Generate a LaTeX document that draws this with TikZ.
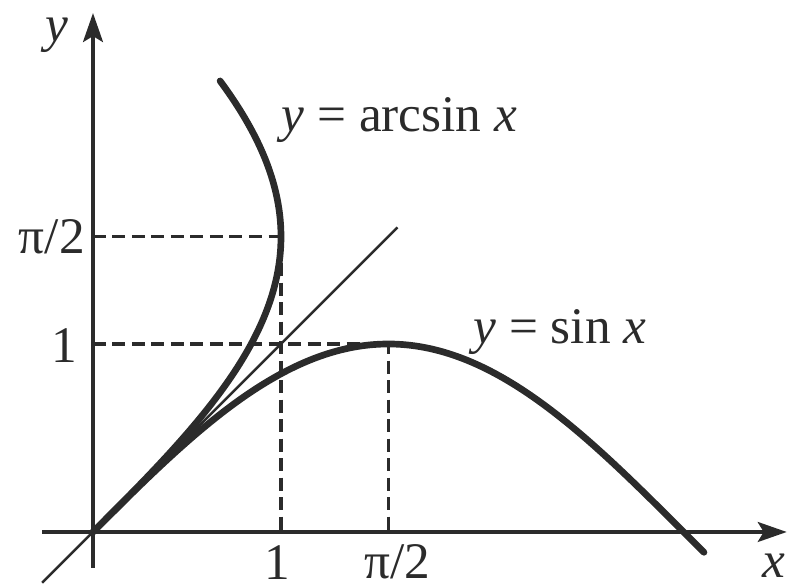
\documentclass[tikz,border=0pt]{standalone}
\usepackage{fontspec}
\setmainfont{Liberation Serif}
\usepackage{xcolor}
\usepackage{tikz}
\usetikzlibrary{arrows.meta}

\definecolor{ink}{HTML}{2B2B2B}

\begin{document}
\begin{tikzpicture}[
        x=1.88cm, y=1.88cm,
        axis/.style={-{Stealth[length=2.9mm, width=2mm, inset=0.6mm]}, line width=0.9pt, ink},
        curve/.style={line width=1.9pt, ink, line cap=round},
        diagonal/.style={line width=0.7pt, ink},
        guide/.style={line width=1pt, ink, dash pattern=on 1.3mm off 0.65mm},
        lbl/.style={font=\fontsize{14.6pt}{17pt}\selectfont, text=ink, inner sep=0pt}
    ]
        \useasboundingbox (-0.93cm,-0.55cm) rectangle (6.95cm,5.32cm);

        % axes
        \coordinate (O) at (0,0);
        \coordinate (xstart) at (-0.27,0);
        \coordinate (xend) at (3.69,0);
        \coordinate (ystart) at (0,-0.19);
        \coordinate (yend) at (0,2.76);
        \draw[axis] (xstart) -- (xend);
        \draw[axis] (ystart) -- (yend);
        \node[lbl] (xlabel) at (3.62,-0.18) {\textit{x}};
        \node[lbl] (ylabel) at (-0.19,2.64) {\textit{y}};

        % guide lines
        \coordinate (one) at (1,0);
        \coordinate (halfpi) at ({pi/2},0);
        \coordinate (yone) at (0,1);
        \coordinate (yhalfpi) at (0,{pi/2});
        \coordinate (top) at (1,{pi/2});
        \coordinate (peak) at ({pi/2},1);
        \draw[guide] (yhalfpi) -- (top) -- (one);
        \draw[guide] (yone) -- (peak) -- (halfpi);

        % tick labels
        \node[lbl] (tick1x) at (0.98,-0.16) {1};
        \node[lbl] (tickpix) at (1.62,-0.16) {π/2};
        \node[lbl, anchor=east] (tick1y) at (-0.08,0.99) {1};
        \node[lbl, anchor=east] (tickpiy) at (-0.04,{pi/2}) {π/2};

        % y = x
        \draw[diagonal] (-0.27,-0.27) -- (1.62,1.62);

        % curves
        \draw[curve] plot[domain=0:3.25, samples=80, smooth] (\x, {sin(\x r)});
        \draw[curve] plot[domain=0:2.4, samples=60, smooth] ({sin(\x r)}, \x);

        \node[lbl, anchor=base west] (arcsinlabel) at (1.0,2.13) {\textit{y} = arcsin \textit{x}};
        \node[lbl, anchor=base west] (sinlabel) at (2.02,1.0) {\textit{y} = sin \textit{x}};
    \end{tikzpicture}
\end{document}
